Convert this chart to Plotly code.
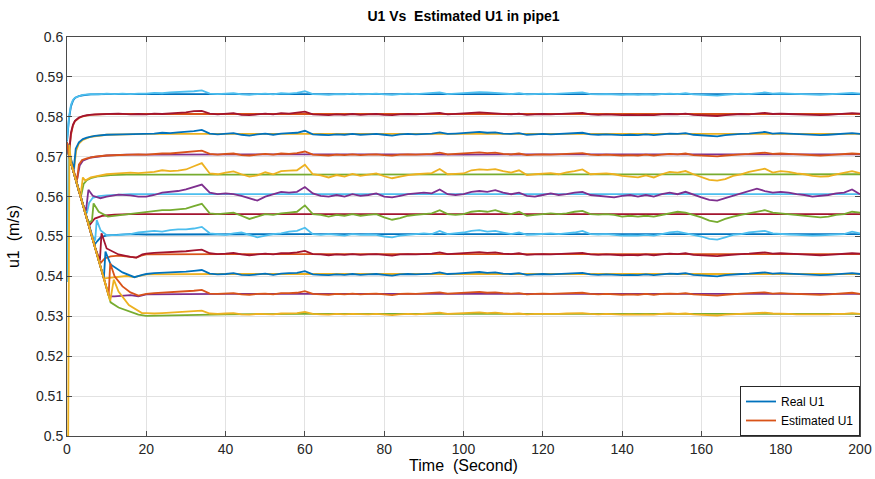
import plotly.graph_objects as go

# ---------------- data ----------------
T_SS = list(range(20, 201, 2))          # steady-state time grid (s)
T_FLAT = [20, 40, 60, 80, 100, 120, 140, 160, 180, 200]

Y_TICKS = [0.5, 0.51, 0.52, 0.53, 0.54, 0.55, 0.56, 0.57, 0.58, 0.59, 0.6]
Y_TICK_TEXT = ["0.5", "0.51", "0.52", "0.53", "0.54", "0.55", "0.56", "0.57", "0.58", "0.59", "0.6"]
X_TICKS = [0, 20, 40, 60, 80, 100, 120, 140, 160, 180, 200]

# ---- level 1 (~0.5857)
L1_EST_T0 = [0, 0.5, 1, 1.5, 2, 3, 4, 6, 8, 10, 12, 14, 16, 18]
L1_EST_U0 = [.5740, .5800, .5830, .5842, .5848, .5852, .5855, .5857, .5856, .5858, .5857, .5858, .5857, .5858]
L1_EST = [.5858, .5860, .5859, .5861, .5862, .5862, .5864, .5866, .5858, .5857,
          .5858, .5859, .5856, .5855, .5857, .5858, .5856, .5859, .5858, .5860,
          .5864, .5857, .5856, .5855, .5857, .5856, .5858, .5856, .5857, .5858,
          .5856, .5855, .5857, .5858, .5857, .5858, .5859, .5861, .5857, .5858,
          .5859, .5861, .5862, .5861, .5860, .5859, .5857, .5859, .5856, .5857,
          .5858, .5857, .5858, .5859, .5860, .5861, .5857, .5856, .5857, .5856,
          .5855, .5856, .5855, .5856, .5855, .5857, .5858, .5857, .5859, .5856,
          .5855, .5853, .5853, .5855, .5857, .5858, .5857, .5859, .5861, .5858,
          .5859, .5858, .5857, .5856, .5856, .5855, .5856, .5857, .5858, .5860,
          .5858]
L1_REAL_T0 = [0, 0.5, 1, 1.5, 2, 3, 4, 6, 10, 15]
L1_REAL_U0 = [.5738, .5795, .5826, .5840, .5847, .5852, .5854, .5856, .5857, .5857]
L1_REAL = [.5857, .5857, .5857, .5857, .5857, .5857, .5856, .5856, .5857, .5857]

# ---- level 2 (~0.5807)
L2_EST_T0 = [0, 0.5, 1, 1.5, 2, 3, 4, 5, 7, 10, 13, 16, 18]
L2_EST_U0 = [.5735, .5705, .5760, .5780, .5790, .5798, .5802, .5804, .5806, .5807, .5808, .5806, .5807]
L2_EST = [.5806, .5808, .5807, .5809, .5810, .5811, .5814, .5815, .5808, .5806,
          .5808, .5809, .5805, .5804, .5806, .5808, .5806, .5809, .5808, .5810,
          .5813, .5806, .5805, .5804, .5806, .5805, .5807, .5805, .5806, .5807,
          .5805, .5804, .5806, .5807, .5806, .5807, .5808, .5810, .5806, .5807,
          .5808, .5810, .5811, .5810, .5809, .5808, .5806, .5808, .5805, .5806,
          .5807, .5806, .5807, .5808, .5809, .5810, .5806, .5805, .5806, .5805,
          .5804, .5805, .5804, .5805, .5804, .5806, .5807, .5806, .5808, .5805,
          .5804, .5802, .5802, .5804, .5806, .5807, .5806, .5808, .5810, .5807,
          .5808, .5807, .5806, .5805, .5805, .5804, .5805, .5806, .5807, .5809,
          .5808]
L2_REAL_T0 = [0, 0.5, 1, 1.5, 2, 3, 4, 6, 10, 15]
L2_REAL_U0 = [.5735, .5708, .5755, .5778, .5789, .5797, .5801, .5805, .5807, .5807]
L2_REAL = [.5807, .5807, .5807, .5806, .5807, .5807, .5807, .5806, .5807, .5807]

# ---- level 3 (~0.5757)
L3_EST_T0 = [0, 0.5, 1, 1.7, 2.2, 3, 4, 5, 7, 10, 14, 18]
L3_EST_U0 = [.5735, .5715, .5695, .5667, .5720, .5736, .5744, .5748, .5752, .5755, .5756, .5757]
L3_EST = [.5756, .5758, .5760, .5759, .5761, .5762, .5764, .5767, .5758, .5756,
          .5757, .5759, .5755, .5753, .5756, .5758, .5755, .5758, .5759, .5760,
          .5765, .5756, .5755, .5754, .5756, .5755, .5757, .5755, .5756, .5757,
          .5755, .5753, .5756, .5757, .5756, .5757, .5758, .5761, .5757, .5758,
          .5759, .5761, .5762, .5760, .5761, .5758, .5757, .5759, .5755, .5756,
          .5757, .5756, .5757, .5758, .5759, .5760, .5756, .5755, .5756, .5755,
          .5754, .5755, .5754, .5756, .5754, .5756, .5758, .5757, .5759, .5755,
          .5754, .5752, .5751, .5754, .5756, .5757, .5758, .5760, .5762, .5758,
          .5759, .5758, .5757, .5755, .5755, .5754, .5755, .5756, .5757, .5759,
          .5757]
L3_REAL_T0 = [0, 0.5, 1, 1.8, 2.3, 3, 4, 6, 10, 15]
L3_REAL_U0 = [.5735, .5710, .5692, .5670, .5715, .5733, .5742, .5750, .5755, .5756]
L3_REAL = [.5757, .5757, .5757, .5757, .5757, .5756, .5757, .5757, .5757, .5757]

# ---- level 4 (~0.5706)
L4_EST_T0 = [0, 0.5, 1, 2, 2.5, 3, 3.8, 5, 7, 10, 14, 18]
L4_EST_U0 = [.5735, .5703, .5685, .5652, .5640, .5680, .5692, .5696, .5700, .5703, .5705, .5706]
L4_EST = [.5705, .5707, .5708, .5708, .5710, .5711, .5713, .5715, .5707, .5705,
          .5707, .5708, .5704, .5703, .5705, .5707, .5705, .5708, .5707, .5709,
          .5713, .5705, .5704, .5703, .5705, .5704, .5706, .5704, .5705, .5706,
          .5704, .5703, .5705, .5706, .5705, .5706, .5707, .5710, .5706, .5707,
          .5708, .5710, .5711, .5709, .5710, .5707, .5706, .5708, .5704, .5705,
          .5706, .5705, .5706, .5707, .5708, .5709, .5705, .5704, .5705, .5704,
          .5703, .5704, .5703, .5705, .5703, .5705, .5707, .5706, .5708, .5704,
          .5703, .5701, .5701, .5703, .5705, .5706, .5707, .5709, .5710, .5707,
          .5708, .5707, .5706, .5704, .5704, .5703, .5704, .5705, .5706, .5708,
          .5707]
L4_REAL_T0 = [0, 0.5, 1, 2, 2.6, 3.2, 4, 6, 10, 15]
L4_REAL_U0 = [.5735, .5703, .5685, .5652, .5645, .5678, .5690, .5698, .5703, .5705]
L4_REAL = [.5705, .5706, .5706, .5706, .5705, .5706, .5706, .5705, .5706, .5706]

# ---- level 5 (~0.5656)
L5_EST_T0 = [0, 0.5, 1, 2, 3, 3.4, 4, 4.6, 6, 8, 10, 13, 16, 18]
L5_EST_U0 = [.5735, .5703, .5685, .5650, .5612, .5600, .5648, .5640, .5648, .5652, .5656, .5658, .5660, .5659]
L5_EST = [.5660, .5662, .5666, .5664, .5665, .5668, .5676, .5684, .5658, .5656,
          .5660, .5663, .5656, .5650, .5653, .5661, .5656, .5664, .5665, .5666,
          .5680, .5656, .5653, .5648, .5654, .5650, .5657, .5652, .5655, .5658,
          .5651, .5646, .5650, .5654, .5656, .5658, .5659, .5669, .5656, .5657,
          .5658, .5666, .5668, .5667, .5669, .5664, .5660, .5666, .5654, .5656,
          .5657, .5659, .5656, .5661, .5664, .5668, .5656, .5657, .5658, .5656,
          .5652, .5650, .5648, .5653, .5648, .5656, .5662, .5660, .5664, .5656,
          .5648, .5642, .5640, .5644, .5652, .5656, .5662, .5666, .5670, .5660,
          .5664, .5662, .5658, .5656, .5652, .5650, .5651, .5656, .5660, .5664,
          .5659]
L5_REAL_T0 = [0, 0.5, 1, 2, 3, 3.6, 4.2, 5, 6, 8, 11, 15]
L5_REAL_U0 = [.5735, .5703, .5685, .5650, .5612, .5604, .5632, .5641, .5646, .5651, .5654, .5655]
L5_REAL = [.5655, .5656, .5656, .5656, .5656, .5656, .5656, .5656, .5656, .5656]

# ---- level 6 (~0.5606)
L6_EST_T0 = [0, 0.5, 1, 2, 3, 4, 4.8, 5.4, 6.5, 8.4, 10, 13, 16, 18]
L6_EST_U0 = [.5735, .5703, .5685, .5650, .5615, .5580, .5565, .5617, .5602, .5596, .5600, .5605, .5603, .5600]
L6_EST = [.5600, .5604, .5610, .5612, .5614, .5618, .5624, .5630, .5610, .5606,
          .5608, .5606, .5602, .5596, .5590, .5600, .5606, .5612, .5610, .5612,
          .5624, .5608, .5602, .5600, .5604, .5600, .5606, .5602, .5604, .5608,
          .5600, .5598, .5602, .5606, .5608, .5610, .5608, .5618, .5606, .5604,
          .5606, .5612, .5614, .5612, .5616, .5610, .5606, .5610, .5602, .5600,
          .5604, .5608, .5604, .5606, .5610, .5612, .5604, .5602, .5600, .5598,
          .5602, .5604, .5600, .5604, .5600, .5606, .5610, .5606, .5612, .5604,
          .5598, .5592, .5590, .5596, .5602, .5608, .5614, .5620, .5614, .5610,
          .5612, .5610, .5606, .5604, .5600, .5602, .5604, .5608, .5610, .5618,
          .5606]
L6_REAL_T0 = [0, 0.5, 1, 2, 3, 4, 5, 5.6, 6.5, 8, 10, 13, 16]
L6_REAL_U0 = [.5735, .5703, .5685, .5650, .5615, .5580, .5558, .5585, .5597, .5601, .5603, .5605, .5606]
L6_REAL = [.5606, .5606, .5607, .5606, .5606, .5606, .5606, .5606, .5606, .5606]

# ---- level 7 (~0.5556)
L7_EST_T0 = [0, 0.5, 1, 2, 3, 4, 5, 5.6, 6.3, 6.7, 8, 10.3, 13, 16, 18]
L7_EST_U0 = [.5735, .5703, .5685, .5650, .5615, .5580, .5545, .5535, .5540, .5583, .5562, .5550, .5553, .5556, .5558]
L7_EST = [.5560, .5564, .5566, .5566, .5568, .5570, .5576, .5582, .5558, .5556,
          .5558, .5560, .5552, .5544, .5550, .5556, .5554, .5558, .5560, .5562,
          .5578, .5556, .5554, .5550, .5554, .5552, .5556, .5552, .5554, .5556,
          .5548, .5542, .5546, .5552, .5554, .5556, .5558, .5566, .5556, .5554,
          .5556, .5562, .5564, .5562, .5566, .5560, .5556, .5562, .5552, .5554,
          .5556, .5558, .5556, .5558, .5562, .5564, .5556, .5555, .5556, .5554,
          .5550, .5552, .5550, .5552, .5550, .5554, .5558, .5562, .5560, .5554,
          .5548, .5540, .5536, .5544, .5550, .5554, .5558, .5562, .5566, .5560,
          .5558, .5556, .5554, .5552, .5550, .5548, .5550, .5554, .5556, .5562,
          .5560]
L7_REAL_T0 = [0, 0.5, 1, 2, 3, 4, 5, 5.8, 7, 9, 12, 16]
L7_REAL_U0 = [.5735, .5703, .5685, .5650, .5615, .5580, .5545, .5530, .5545, .5552, .5555, .5556]
L7_REAL = [.5556, .5556, .5556, .5556, .5556, .5556, .5556, .5556, .5556, .5556]

# ---- level 8 (~0.5506)
L8_EST_T0 = [0, 0.4, 1, 2, 3, 4, 5, 6, 7.1, 7.5, 8.5, 10, 13, 16, 18]
L8_EST_U0 = [.5386, .5730, .5685, .5650, .5615, .5580, .5545, .5510, .5490, .5541, .5515, .5503, .5504, .5506, .5510]
L8_EST = [.5512, .5514, .5512, .5516, .5518, .5518, .5520, .5524, .5508, .5506,
          .5504, .5508, .5510, .5504, .5498, .5502, .5506, .5508, .5512, .5514,
          .5522, .5506, .5504, .5506, .5504, .5502, .5506, .5504, .5505, .5504,
          .5500, .5498, .5502, .5504, .5506, .5508, .5506, .5514, .5506, .5508,
          .5510, .5514, .5516, .5512, .5514, .5510, .5506, .5510, .5504, .5505,
          .5506, .5508, .5506, .5508, .5510, .5514, .5506, .5505, .5506, .5504,
          .5502, .5503, .5502, .5504, .5502, .5506, .5510, .5512, .5508, .5504,
          .5500, .5494, .5492, .5498, .5504, .5506, .5510, .5512, .5514, .5508,
          .5506, .5505, .5504, .5503, .5502, .5503, .5504, .5506, .5506, .5512,
          .5508]
L8_REAL_T0 = [0, 0.5, 1, 2, 3, 4, 5, 6, 7, 7.6, 8.5, 10, 13, 16]
L8_REAL_U0 = [.5735, .5703, .5685, .5650, .5615, .5580, .5545, .5510, .5480, .5488, .5498, .5503, .5505, .5506]
L8_REAL = [.5505, .5506, .5506, .5506, .5506, .5506, .5506, .5505, .5506, .5506]

# ---- level 9 (~0.5456)
L9_EST_T0 = [0, 0.5, 1, 2, 3, 4, 5, 6, 7, 8.3, 8.7, 10, 13, 16, 17.5, 19]
L9_EST_U0 = [.5735, .5703, .5685, .5650, .5615, .5580, .5545, .5510, .5475, .5440, .5508, .5470, .5455, .5449, .5447, .5455]
L9_EST = [.5457, .5459, .5460, .5460, .5462, .5463, .5465, .5467, .5458, .5456,
          .5457, .5459, .5455, .5453, .5455, .5457, .5455, .5458, .5458, .5460,
          .5464, .5456, .5455, .5453, .5455, .5454, .5456, .5454, .5455, .5456,
          .5454, .5452, .5455, .5456, .5455, .5456, .5457, .5460, .5456, .5457,
          .5458, .5460, .5461, .5459, .5460, .5457, .5456, .5458, .5454, .5455,
          .5456, .5455, .5456, .5457, .5458, .5459, .5455, .5454, .5455, .5454,
          .5453, .5454, .5453, .5455, .5453, .5455, .5457, .5456, .5458, .5454,
          .5453, .5451, .5451, .5453, .5455, .5456, .5457, .5459, .5460, .5457,
          .5458, .5457, .5456, .5454, .5454, .5453, .5454, .5455, .5456, .5458,
          .5457]
L9_REAL_T0 = [0, 0.5, 1, 2, 3, 4, 5, 6, 7, 8, 8.6, 9.5, 11, 13, 16, 17.5, 19]
L9_REAL_U0 = [.5735, .5703, .5685, .5650, .5615, .5580, .5545, .5510, .5475, .5440, .5435, .5445, .5450, .5452, .5449, .5447, .5453]
L9_REAL = [.5455, .5456, .5456, .5456, .5456, .5456, .5456, .5456, .5456, .5456]

# ---- level 10 (~0.5406)
L10_EST_T0 = [0, 0.5, 1, 2, 3, 4, 5, 6, 7, 8, 9, 9.3, 9.7, 11, 14, 17, 19]
L10_EST_U0 = [.5735, .5703, .5685, .5650, .5615, .5580, .5545, .5510, .5475, .5440, .5405, .5395, .5462, .5430, .5410, .5398, .5404]
L10_EST = [.5406, .5408, .5409, .5409, .5411, .5412, .5414, .5416, .5407, .5405,
           .5406, .5408, .5404, .5403, .5405, .5407, .5404, .5407, .5408, .5409,
           .5413, .5405, .5404, .5403, .5405, .5404, .5406, .5404, .5405, .5406,
           .5404, .5402, .5405, .5406, .5405, .5406, .5407, .5410, .5406, .5407,
           .5408, .5410, .5411, .5409, .5410, .5407, .5406, .5408, .5404, .5405,
           .5406, .5405, .5406, .5407, .5408, .5409, .5405, .5404, .5405, .5404,
           .5403, .5404, .5403, .5405, .5403, .5405, .5407, .5406, .5408, .5404,
           .5403, .5401, .5400, .5403, .5405, .5406, .5407, .5409, .5410, .5407,
           .5408, .5407, .5406, .5404, .5404, .5403, .5404, .5405, .5406, .5408,
           .5406]
L10_REAL_T0 = [0, 0.5, 1, 2, 3, 4, 5, 6, 7, 8, 9, 9.5, 11, 13, 15, 17, 19]
L10_REAL_U0 = [.5735, .5703, .5685, .5650, .5615, .5580, .5545, .5510, .5475, .5440, .5405, .5395, .5397, .5400, .5401, .5398, .5403]
L10_REAL = [.5405, .5406, .5406, .5406, .5406, .5406, .5406, .5406, .5406, .5406]

# ---- level 11 (~0.5357)
L11_EST_T0 = [0, 0.5, 1, 2, 3, 4, 5, 6, 7, 8, 9, 10, 10.5, 10.9, 12, 14, 16, 18, 19.5]
L11_EST_U0 = [.5735, .5703, .5685, .5650, .5615, .5580, .5545, .5510, .5475, .5440, .5405, .5370, .5352, .5433, .5400, .5375, .5360, .5352, .5355]
L11_EST = [.5356, .5358, .5359, .5360, .5361, .5362, .5364, .5366, .5357, .5356,
           .5357, .5358, .5355, .5354, .5356, .5357, .5355, .5358, .5358, .5359,
           .5363, .5356, .5355, .5354, .5356, .5355, .5357, .5355, .5356, .5357,
           .5355, .5353, .5356, .5357, .5356, .5357, .5358, .5360, .5357, .5358,
           .5359, .5360, .5361, .5359, .5360, .5358, .5357, .5358, .5355, .5356,
           .5357, .5356, .5357, .5358, .5358, .5359, .5356, .5355, .5356, .5355,
           .5354, .5355, .5354, .5356, .5354, .5356, .5357, .5356, .5358, .5355,
           .5354, .5352, .5352, .5354, .5356, .5357, .5358, .5359, .5360, .5357,
           .5358, .5357, .5356, .5355, .5355, .5354, .5355, .5356, .5357, .5359,
           .5356]
L11_REAL_T0 = [0, 0.5, 1, 2, 3, 4, 5, 6, 7, 8, 9, 10, 10.6, 12, 14, 16, 18, 19.5]
L11_REAL_U0 = [.5735, .5703, .5685, .5650, .5615, .5580, .5545, .5510, .5475, .5440, .5405, .5370, .5350, .5350, .5352, .5353, .5350, .5354]
L11_REAL = [.5355, .5356, .5356, .5357, .5356, .5356, .5356, .5356, .5356, .5356]

# ---- level 12 (~0.5306)
L12_EST_T0 = [0, 0.3, 0.6, 1, 2, 3, 4, 5, 6, 7, 8, 9, 10, 10.9, 11.8, 13, 15.6, 18.9]
L12_EST_U0 = [.5000, .5000, .5730, .5685, .5650, .5615, .5580, .5545, .5510, .5475, .5440, .5405, .5370, .5339, .5392, .5362, .5328, .5308]
L12_EST = [.5308, .5307, .5308, .5309, .5310, .5311, .5313, .5314, .5307, .5306,
           .5307, .5308, .5305, .5304, .5306, .5306, .5305, .5307, .5307, .5308,
           .5311, .5306, .5305, .5304, .5306, .5305, .5306, .5305, .5305, .5306,
           .5304, .5303, .5305, .5306, .5305, .5306, .5307, .5309, .5306, .5307,
           .5308, .5309, .5310, .5308, .5309, .5307, .5306, .5307, .5305, .5306,
           .5306, .5305, .5306, .5307, .5307, .5308, .5306, .5305, .5306, .5305,
           .5304, .5305, .5304, .5305, .5304, .5306, .5307, .5306, .5307, .5305,
           .5304, .5303, .5302, .5304, .5305, .5306, .5307, .5308, .5309, .5307,
           .5307, .5306, .5305, .5305, .5304, .5304, .5305, .5306, .5306, .5308,
           .5306]
L12_REAL_T0 = [0, 0.5, 1, 2, 3, 4, 5, 6, 7, 8, 9, 10, 11, 13, 15.6, 18]
L12_REAL_U0 = [.5735, .5703, .5685, .5650, .5615, .5580, .5545, .5510, .5475, .5440, .5405, .5370, .5335, .5322, .5312, .5304]
L12_REAL = [.5301, .5305, .5306, .5306, .5306, .5306, .5306, .5305, .5306, .5306]

# ---------------- styling ----------------
BLUE, ORANGE, YELLOW, PURPLE = "#0072BD", "#D95319", "#EDB120", "#7E2F8E"
GREEN, LBLUE, DRED = "#77AC30", "#4DBEEE", "#A2142F"

# (real t0, real u0, real steady, real colour, est t0, est u0, est steady, est colour)
LEVELS = [
    (L1_REAL_T0, L1_REAL_U0, L1_REAL, BLUE, L1_EST_T0, L1_EST_U0, L1_EST, LBLUE),
    (L2_REAL_T0, L2_REAL_U0, L2_REAL, ORANGE, L2_EST_T0, L2_EST_U0, L2_EST, DRED),
    (L3_REAL_T0, L3_REAL_U0, L3_REAL, YELLOW, L3_EST_T0, L3_EST_U0, L3_EST, BLUE),
    (L4_REAL_T0, L4_REAL_U0, L4_REAL, PURPLE, L4_EST_T0, L4_EST_U0, L4_EST, ORANGE),
    (L5_REAL_T0, L5_REAL_U0, L5_REAL, GREEN, L5_EST_T0, L5_EST_U0, L5_EST, YELLOW),
    (L6_REAL_T0, L6_REAL_U0, L6_REAL, LBLUE, L6_EST_T0, L6_EST_U0, L6_EST, PURPLE),
    (L7_REAL_T0, L7_REAL_U0, L7_REAL, DRED, L7_EST_T0, L7_EST_U0, L7_EST, GREEN),
    (L8_REAL_T0, L8_REAL_U0, L8_REAL, BLUE, L8_EST_T0, L8_EST_U0, L8_EST, LBLUE),
    (L9_REAL_T0, L9_REAL_U0, L9_REAL, ORANGE, L9_EST_T0, L9_EST_U0, L9_EST, DRED),
    (L10_REAL_T0, L10_REAL_U0, L10_REAL, YELLOW, L10_EST_T0, L10_EST_U0, L10_EST, BLUE),
    (L11_REAL_T0, L11_REAL_U0, L11_REAL, PURPLE, L11_EST_T0, L11_EST_U0, L11_EST, ORANGE),
    (L12_REAL_T0, L12_REAL_U0, L12_REAL, GREEN, L12_EST_T0, L12_EST_U0, L12_EST, YELLOW),
]

fig = go.Figure()
LW = 1.8
for i, (rt, ru, rs, rc, et, eu, es, ec) in enumerate(LEVELS):
    assert len(es) == len(T_SS), (i, len(es))
    assert len(rs) == len(T_FLAT), (i, len(rs))
    assert len(rt) == len(ru) and len(et) == len(eu), i
    fig.add_trace(go.Scatter(x=rt + T_FLAT, y=ru + rs, mode="lines",
                             line=dict(color=rc, width=LW), showlegend=False,
                             hoverinfo="skip"))
for i, (rt, ru, rs, rc, et, eu, es, ec) in enumerate(LEVELS):
    fig.add_trace(go.Scatter(x=et + T_SS, y=eu + es, mode="lines",
                             line=dict(color=ec, width=LW), showlegend=False,
                             hoverinfo="skip"))

# legend entries attached to real data traces
fig.data[0].update(name="Real U1", showlegend=True, legendrank=1)
fig.data[1].update(name="Estimated U1", showlegend=True, legendrank=2)

AX = "#4a4a4a"
GRID = "#e2e2e2"
FONT = "Liberation Sans, Arial, Helvetica, sans-serif"

fig.update_layout(
    width=875, height=479,
    margin=dict(l=67, r=15, t=37, b=43, autoexpand=False),
    paper_bgcolor="white", plot_bgcolor="white",
    font=dict(family=FONT, size=13, color="#262626"),
    title=dict(text="<b>U1 Vs\u00a0 Estimated U1 in pipe1</b>",
               x=0.5, xref="paper", xanchor="center",
               y=1 - 16 / 479, yref="container", yanchor="middle",
               font=dict(family=FONT, size=14, color="#000000"),
               automargin=False),
    legend=dict(x=1, y=0, xanchor="right", yanchor="bottom",
                bgcolor="white", bordercolor="#262626", borderwidth=1,
                font=dict(family=FONT, size=12, color="#000000"),
                itemwidth=30, tracegroupgap=0),
    showlegend=True,
)
fig.update_xaxes(range=[0, 200], tickvals=X_TICKS, ticks="inside", ticklen=5,
                 tickcolor=AX, showline=True, linecolor=AX, linewidth=1,
                 mirror="ticks", showgrid=True, gridcolor=GRID, gridwidth=1,
                 zeroline=False, tickfont=dict(size=14), automargin=False,
                 title=dict(text="Time\u00a0 (Second)", standoff=0,
                            font=dict(size=16, color="#000000")))
fig.update_yaxes(range=[0.5, 0.6], tickvals=Y_TICKS, ticktext=Y_TICK_TEXT,
                 ticks="inside", ticklen=5, tickcolor=AX, showline=True,
                 linecolor=AX, linewidth=1, mirror="ticks", showgrid=True,
                 gridcolor=GRID, gridwidth=1, zeroline=False,
                 tickfont=dict(size=14), automargin=False,
                 title=dict(text="u1\u00a0 (m/s)", standoff=12,
                            font=dict(size=16, color="#000000")))

fig.write_html("out.html")
